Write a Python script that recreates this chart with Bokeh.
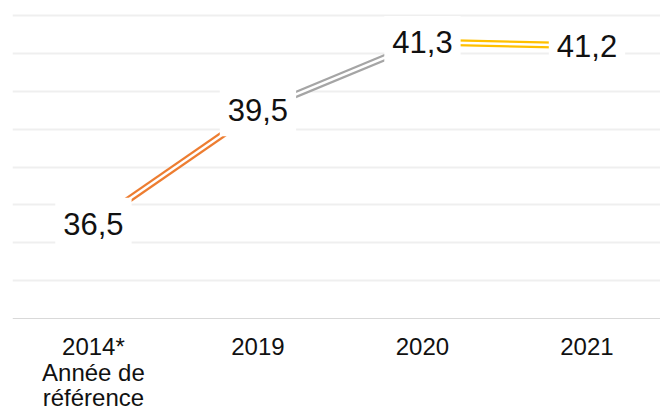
from bokeh.plotting import figure
from bokeh.models import Range1d, FixedTicker, ColumnDataSource, Span
from bokeh.core.properties import value
from bokeh.embed import file_html
from bokeh.resources import INLINE

# ---- data ----
categories = ["2014*\nAnnée de\nréférence", "2019", "2020", "2021"]
values = [36.5, 39.5, 41.3, 41.2]
value_labels = ["36,5", "39,5", "41,3", "41,2"]
segment_colors = ["#ED7D31", "#A5A5A5", "#FFC000"]
grid_ticks = [35, 36, 37, 38, 39, 40, 41, 42]
baseline = 34

xs = list(range(len(categories)))

H = 412
PX_PER_UNIT = 37.875
y_top = 42 + 15 / PX_PER_UNIT
y_bottom = baseline - (H - 318) / PX_PER_UNIT

p = figure(width=660, height=H, output_backend="svg", toolbar_location=None,
           x_range=Range1d(-0.492, 3.447), y_range=Range1d(y_bottom, y_top),
           min_border_left=12, min_border_right=0, min_border_top=0,
           min_border_bottom=0)
p.outline_line_color = None
p.background_fill_color = "white"
p.border_fill_color = "white"

p.xaxis.visible = False
p.yaxis.visible = False
p.xgrid.visible = False
p.ygrid.ticker = FixedTicker(ticks=grid_ticks)
p.ygrid.grid_line_color = "#efefef"
p.ygrid.grid_line_width = 2

p.add_layout(Span(location=baseline, dimension="width", line_color="#d9d9d9",
                  line_width=1))

seg = ColumnDataSource(dict(x0=xs[:-1], y0=values[:-1], x1=xs[1:], y1=values[1:],
                            c=segment_colors))
p.segment("x0", "y0", "x1", "y1", source=seg, line_color="c", line_width=7)
p.segment("x0", "y0", "x1", "y1", source=seg, line_color="white", line_width=2.5)

lab = ColumnDataSource(dict(x=xs, y=values, t=value_labels))
p.text("x", "y", text="t", source=lab, text_align="center", text_baseline="middle",
       text_font=value("Liberation Sans"), text_font_size="31px", text_color="#111111",
       background_fill_color="white", padding=dict(x=8, y=15))

# category labels below the baseline, one text per line
FIRST_BASELINE_PX = 28
LINE_PX = 25.5
lx, ly, lt = [], [], []
for x, cat in zip(xs, categories):
    for i, line in enumerate(cat.split("\n")):
        lx.append(x)
        ly.append(baseline - (FIRST_BASELINE_PX + i * LINE_PX) / PX_PER_UNIT)
        lt.append(line)
cats = ColumnDataSource(dict(x=lx, y=ly, t=lt))
p.text("x", "y", text="t", source=cats, text_align="center", text_baseline="alphabetic",
       text_font=value("Liberation Sans"), text_font_size="24px", text_color="#111111")

open("out.html", "w").write(file_html(p, INLINE))
